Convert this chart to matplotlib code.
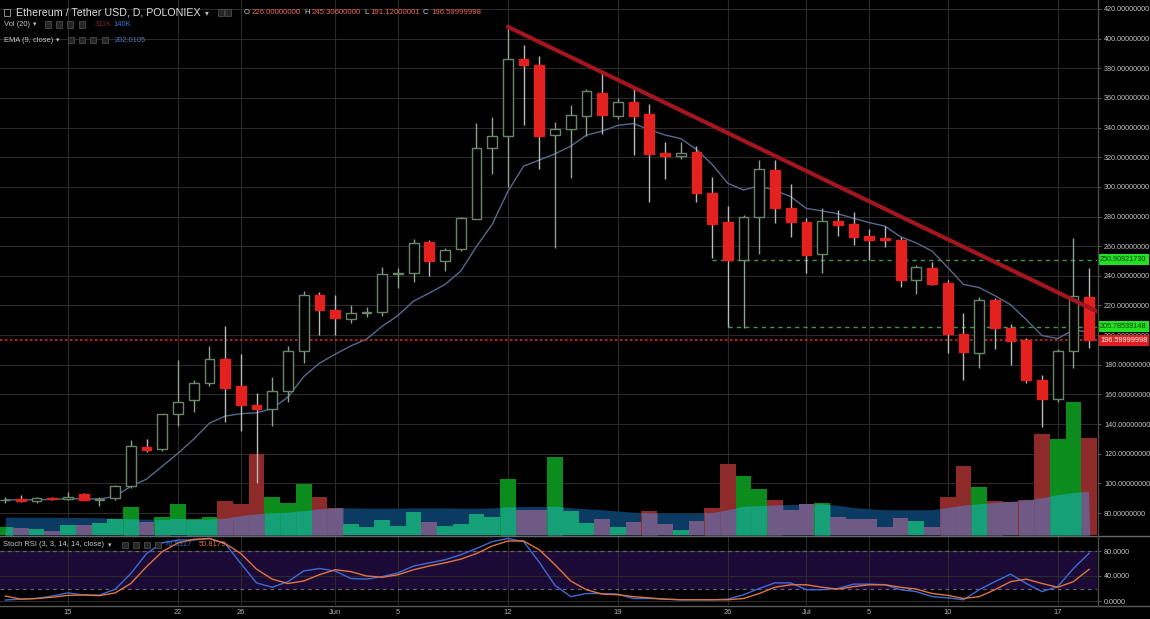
import numpy as np
import matplotlib
matplotlib.use("Agg")
import matplotlib.pyplot as plt
from matplotlib.patches import Rectangle
from matplotlib.lines import Line2D

plt.rcParams['font.family'] = ['Liberation Sans', 'DejaVu Sans']

W, H = 1150, 619

# ---------------- data (daily, 11 May .. 19 Jul) ----------------
first_day = -4  # day offset of first candle relative to 15 May
open_ = [88.5, 89.5, 88, 90, 89.5, 93, 89, 90,
         98, 124.5, 123, 146.5, 156, 168,
         184, 166, 153, 150, 162, 189, 227, 217,
         211, 215, 215.5, 241, 242, 262.5, 250, 258, 278.5, 326,
         334.5, 386, 382, 335,
         339, 348, 363, 347.5, 357, 349, 323, 321, 323.5, 296,
         276.5, 251, 280, 311.5, 285.5, 276, 254.5, 277, 275, 267,
         265.5, 264, 237.5, 245.5, 235, 201, 188, 223.5, 204.5, 196.5,
         170, 157, 189.5, 226]
high = [91, 92, 90.5, 91, 94, 93.5, 91, 99,
        129, 130, 147, 183, 170, 193,
        206, 187, 161, 172, 193, 230, 229, 227,
        220, 219, 246, 245, 265, 264, 259, 280, 343, 347,
        408, 396, 388, 344,
        355, 366, 377, 360, 366.5, 356, 330.5, 330, 327.5, 307,
        287, 281, 318, 318, 302, 279, 285.5, 284.5, 283, 271.5,
        273.5, 266.5, 247.5, 249, 237.5, 215, 226, 225, 207.5, 198,
        173, 190.5, 265.5, 245.306]
low = [87, 87.5, 86.5, 89, 89, 88.5, 85, 89,
       97, 121, 122, 139, 148, 166,
       141.5, 135, 100, 139, 155, 181, 200, 200,
       208, 212, 213, 232, 236, 240, 243, 257, 278, 309,
       300, 342, 312, 259,
       306, 334, 336, 346, 321.5, 290, 305, 318.5, 290, 252,
       205.8, 205, 255, 275.5, 266, 242, 242, 267, 261, 250.7,
       259.5, 232.5, 227.5, 233.5, 188, 170, 178, 190.5, 180, 168,
       138, 155, 178, 191.12]
close = [89, 88, 90, 89.5, 91, 89, 89.5, 98,
         125, 122.5, 146.5, 155, 168, 184,
         164.5, 153, 150, 162, 189, 227, 217, 211.5,
         215, 215.5, 241, 242, 262, 250, 257.5, 279, 326, 334.5,
         386, 382, 334.5, 339,
         348.5, 364.5, 348.5, 357, 347.5, 322, 321, 323, 296, 275,
         251, 280, 312, 285.5, 276, 254, 277, 274.5, 266.5, 264.5,
         264, 237.5, 246, 234.5, 201, 188.5, 223.5, 204.5, 196, 170,
         157, 189.5, 226.5, 196.6]
ema9 = [89.0, 88.8, 89.0, 89.2, 89.6, 89.5, 89.5, 91.2,
        98.0, 102.9, 111.6, 120.3, 129.8, 140.6,
        145.4, 147.0, 147.6, 150.5, 158.2, 172.0, 181.0, 187.1,
        192.7, 197.3, 206.0, 213.2, 223.0, 228.4, 234.2, 243.2, 259.8, 274.7,
        297.0, 314.0, 318.1, 322.3,
        327.5, 334.9, 337.6, 341.5, 342.7, 338.6, 335.0, 332.6, 325.3, 315.2,
        302.4, 297.9, 300.7, 297.7, 293.4, 285.5, 283.8, 281.9, 278.8, 275.9,
        273.5, 266.3, 262.2, 256.7, 245.6, 234.2, 232.1, 226.6, 220.5, 210.4,
        199.7, 197.7, 203.5, 202.0]
volume_k = [27, 23, 20, 14, 33, 33, 38, 52,
            89, 41, 59, 98, 52, 59,
            110, 98, 260, 123, 102, 162, 123, 87,
            36, 25, 49, 30, 72, 41, 30, 36, 68, 59,
            180, 81, 81, 251,
            78, 38, 52, 27, 41, 78, 36, 17, 44, 87,
            228, 190, 148, 113, 81, 98, 104, 59, 52, 52,
            27, 55, 44, 25, 123, 220, 155, 110, 105, 113,
            324, 308, 427, 311]
vol_ma20_k = [57, 57, 57, 57, 56, 56, 55, 54,
              52, 51, 50, 50, 50, 51,
              54, 62, 68, 71, 73, 78, 84, 87,
              87, 86, 86, 86, 87, 87, 87, 86, 86, 87,
              90, 91, 91, 92,
              87, 84, 81, 77, 73, 71, 70, 70, 70, 72,
              81, 92, 94, 96, 98, 98, 100, 95, 88, 84,
              81, 81, 81, 81, 88, 96, 100, 104, 108, 113,
              119, 130, 136, 140]
stoch_k = [1.6, 3, 4, 8, 13, 9.6, 9.6, 18.7,
           44, 76, 93, 97.6, 97.6, 100, 92, 60, 29, 22,
           31, 48, 52, 48, 36, 35, 39, 45, 56, 61,
           66, 74, 84, 95, 100, 95, 62, 25, 7, 12,
           12, 11, 4, 4, 3, 2, 2, 2, 3, 10,
           20, 29, 29, 18, 18, 20, 27, 27, 26, 18,
           15, 7, 5, 2, 18, 31, 43, 28, 15, 23,
           52, 76.5]
stoch_d = [8, 3, 4, 6, 9, 9.6, 8.5, 13,
           28, 55, 79, 93, 98.7, 100, 92, 76, 51, 35,
           28, 32, 42, 50, 47, 40, 38, 42, 50, 56,
           61, 67, 76, 88, 96, 96, 82, 58, 32, 18,
           11, 10, 7, 5, 3, 2, 2, 2, 2, 4,
           12, 22, 26, 26, 22, 19, 23, 26, 26, 22,
           19, 12, 9, 4, 7, 18, 31, 35, 28, 22,
           31, 50.8]
date_tick_days = [0, 7, 11, 17, 21, 28, 35, 42, 47, 51, 56, 63]
date_tick_labels = ["15", "22", "26", "Jun", "5", "12", "19", "26", "Jul", "5", "10", "17"]
price_ticks = list(range(80, 421, 20))
rsi_ticks = [0, 40, 80]
trend_days = [28, 65.6]
trend_prices = [408.0, 215.5]
level_hi, level_hi_day = 250.90921730, 41
level_lo, level_lo_day = 205.78539148, 42
last_close = 196.59999998

# ---------------- arrays ----------------
o = np.array(open_, float); h = np.array(high, float)
l = np.array(low, float); c = np.array(close, float)
days = np.arange(len(c)) + first_day
vol = np.array(volume_k, float); vma = np.array(vol_ma20_k, float)
up = c >= o

# ---------------- figure ----------------
fig = plt.figure(figsize=(W / 100, H / 100), dpi=100, facecolor='black')
main_rect = [0, 1 - 535 / H, 1097 / W, 535 / H]
rsi_rect = [0, 1 - 605 / H, 1097 / W, 69 / H]
XL = (-4.33, 65.5)
PL = (65.17, 426.07)

grid_c = '#2a2a2a'
axg = fig.add_axes(main_rect)
axg.set_facecolor('black')
axg.set_xlim(*XL); axg.set_ylim(*PL)
axv = fig.add_axes(main_rect, sharex=axg)
axv.patch.set_alpha(0)
ax = fig.add_axes(main_rect, sharex=axg, sharey=axg)
ax.patch.set_alpha(0)

for a in (axg, axv, ax):
    for s in a.spines.values():
        s.set_visible(False)

# grid + right price axis on bottom layer
axg.set_xticks(date_tick_days)
axg.set_yticks(price_ticks)
axg.grid(True, color=grid_c, lw=0.8)
axg.yaxis.tick_right()
axg.set_yticklabels([f"{p:.8f}" for p in price_ticks])
axg.tick_params(axis='y', colors='#555555', labelcolor='#c4c4c4', labelsize=5.2,
                length=3, width=0.8, pad=2)
axg.tick_params(axis='x', length=0, labelbottom=False)

# volume layer
axv.set_ylim(0, 535 / 0.3125)
axv.set_xlim(*XL)
axv.axis('off')
blue_area = '#0b3a62'
g_pure, r_pure = '#0b8c1c', '#8e2a2a'
g_over, r_over = '#16a077', '#6f5a86'
axv.fill_between(days, 0, vma, color=blue_area, lw=0, zorder=1)
for d, v, u in zip(days, vol, up):
    axv.add_patch(Rectangle((d - 0.5, 0), 1.0, v, facecolor=g_pure if u else r_pure,
                            lw=0, zorder=2))
    xs = np.linspace(d - 0.5, d + 0.5, 14)
    mline = np.interp(xs, days, vma, left=0, right=0)
    axv.fill_between(xs, 0, np.minimum(v, mline), color=g_over if u else r_over,
                     lw=0, zorder=3)

# price layer
ax.set_xlim(*XL); ax.set_ylim(*PL)
ax.tick_params(left=False, right=False, bottom=False, labelleft=False, labelbottom=False)
ax.plot(days, ema9, color='#56698f', lw=1.0, zorder=2)
wick_up, wick_dn = '#8ea08e', '#b8b8b8'
ax.vlines(days[up], l[up], h[up], color=wick_up, lw=1, zorder=3)
ax.vlines(days[~up], l[~up], h[~up], color=wick_dn, lw=1, zorder=3)
body_lo = np.minimum(o, c)
body_h = np.maximum(np.abs(c - o), 0.6)
ax.bar(days[up], body_h[up], bottom=body_lo[up], width=0.62, facecolor='black',
       edgecolor='#6a866a', lw=1, zorder=4)
ax.bar(days[~up], body_h[~up], bottom=body_lo[~up], width=0.62, facecolor='#e3221f',
       edgecolor='#e3221f', lw=1, zorder=4)

# horizontal levels
ax.hlines(level_hi, level_hi_day, XL[1], colors='#3f9a3f', linestyles=(0, (3, 3)), lw=1, zorder=2)
ax.hlines(level_lo, level_lo_day, XL[1], colors='#3f9a3f', linestyles=(0, (3, 3)), lw=1, zorder=2)
ax.axhline(last_close, color='#d42323', ls=(0, (1.5, 1.5)), lw=1.2, zorder=2)
# trend line
ax.plot(trend_days, trend_prices, color='#a3161f', lw=3, solid_capstyle='round', zorder=6)

ytr = ax.get_yaxis_transform()
ax.text(1.0 + 3 / 1097, level_hi, f"{level_hi:.8f}", transform=ytr, ha='left', va='center',
        fontsize=5.2, color='#103a10', clip_on=False, zorder=10,
        bbox=dict(boxstyle='square,pad=0.3', fc='#22e022', ec='none'))
ax.text(1.0 + 3 / 1097, level_lo, f"{level_lo:.8f}", transform=ytr, ha='left', va='center',
        fontsize=5.2, color='#103a10', clip_on=False, zorder=10,
        bbox=dict(boxstyle='square,pad=0.3', fc='#22e022', ec='none'))
ax.text(1.0 + 3 / 1097, last_close, f"{last_close:.8f}", transform=ytr, ha='left', va='center',
        fontsize=5.2, color='white', clip_on=False, zorder=11,
        bbox=dict(boxstyle='square,pad=0.3', fc='#e01e1e', ec='none'))

# ---------------- stoch RSI panel ----------------
axr = fig.add_axes(rsi_rect, sharex=axg)
axr.set_facecolor('black')
axr.set_xlim(*XL); axr.set_ylim(-6.4, 104)
for s in axr.spines.values():
    s.set_visible(False)
axr.axhspan(20, 80, color='#1c0a36', lw=0, zorder=0)
axr.set_xticks(date_tick_days)
axr.set_xticklabels(date_tick_labels)
axr.set_yticks(rsi_ticks)
axr.set_yticklabels([f"{t:.4f}" for t in rsi_ticks])
axr.grid(True, color=grid_c, lw=0.8, zorder=0.5)
axr.set_axisbelow(True)
axr.yaxis.tick_right()
axr.tick_params(axis='y', colors='#555555', labelcolor='#c4c4c4', labelsize=5.2,
                length=3, width=0.8, pad=2)
axr.tick_params(axis='x', length=0, labelcolor='#b4b4b4', labelsize=5.4, pad=3)
axr.axhline(80, color='#6e5c84', ls=(0, (3, 3)), lw=0.9, zorder=1)
axr.axhline(20, color='#6e5c84', ls=(0, (3, 3)), lw=0.9, zorder=1)
axr.plot(days, stoch_k, color='#3d6bd6', lw=1.0, zorder=3)
axr.plot(days, stoch_d, color='#e0743d', lw=1.0, zorder=4)

# ---------------- separators ----------------
def fline(x0, y0, x1, y1, col, lw=1.0):
    fig.add_artist(Line2D([x0 / W, x1 / W], [1 - y0 / H, 1 - y1 / H], color=col, lw=lw,
                          transform=fig.transFigure))

fline(0, 535.5, W, 535.5, '#6a6a6a')
fline(0, 605.5, W, 605.5, '#5a5a5a')
fline(1097.5, 0, 1097.5, 605.5, '#4a4a4a')

# ---------------- legend texts ----------------
def ftxt(x, y, s, col, size, fam=None):
    kw = {}
    if fam:
        kw['family'] = fam
    fig.text(x / W, 1 - y / H, s, color=col, fontsize=size, ha='left', va='center', **kw)

def icons(xs, y, size=6):
    for x in xs:
        fig.add_artist(Rectangle((x / W, 1 - (y + size / 2) / H), size / W, size / H,
                                 transform=fig.transFigure, facecolor='#262626',
                                 edgecolor='#4a4a4a', lw=0.6))

fig.add_artist(Rectangle((4 / W, 1 - 16 / H), 6 / W, 7 / H, transform=fig.transFigure,
                         facecolor='none', edgecolor='#8a8a8a', lw=0.7))
ftxt(16, 12.5, "Ethereum / Tether USD, D, POLONIEX", '#dcdcdc', 7.7)
ftxt(205, 12.5, "\u25be", '#bdbdbd', 5.5, ['DejaVu Sans'])
icons([218, 225], 12.5)
ohlc_col = '#ee6a50'
ftxt(244, 12.5, "O", '#c8c8c8', 5.6); ftxt(252, 12.5, f"{open_[-1]:.8f}", ohlc_col, 5.6)
ftxt(304, 12.5, "H", '#c8c8c8', 5.6); ftxt(312, 12.5, f"{high[-1]:.8f}", ohlc_col, 5.6)
ftxt(364, 12.5, "L", '#c8c8c8', 5.6); ftxt(370, 12.5, "191.12000001", ohlc_col, 5.6)
ftxt(423, 12.5, "C", '#c8c8c8', 5.6); ftxt(431, 12.5, f"{last_close:.8f}", ohlc_col, 5.6)

ftxt(4, 24.5, "Vol (20)", '#c8c8c8', 5.4)
ftxt(33, 24.5, "\u25be", '#bdbdbd', 5.0, ['DejaVu Sans'])
icons([45, 56, 67, 79], 24.5)
ftxt(95, 24.5, "311K", '#7e2626', 5.4)
ftxt(113, 24.5, "140K", '#3d7bd8', 5.4)

ftxt(4, 40, "EMA (9, close)", '#c8c8c8', 5.4)
ftxt(56, 40, "\u25be", '#bdbdbd', 5.0, ['DejaVu Sans'])
icons([68, 79, 90, 102], 40)
ftxt(115, 40, "202.0105", '#4f7bb8', 5.4)

ftxt(3, 545, "Stoch RSI (3, 3, 14, 14, close)", '#c8c8c8', 5.4)
ftxt(108, 545, "\u25be", '#bdbdbd', 5.0, ['DejaVu Sans'])
icons([122, 133, 144, 155], 545)
ftxt(165, 545, "76.5317", '#3f6fd0', 5.4)
ftxt(199, 545, "50.8179", '#e07540', 5.4)

fig.savefig("out.png", dpi=100, facecolor='black')
